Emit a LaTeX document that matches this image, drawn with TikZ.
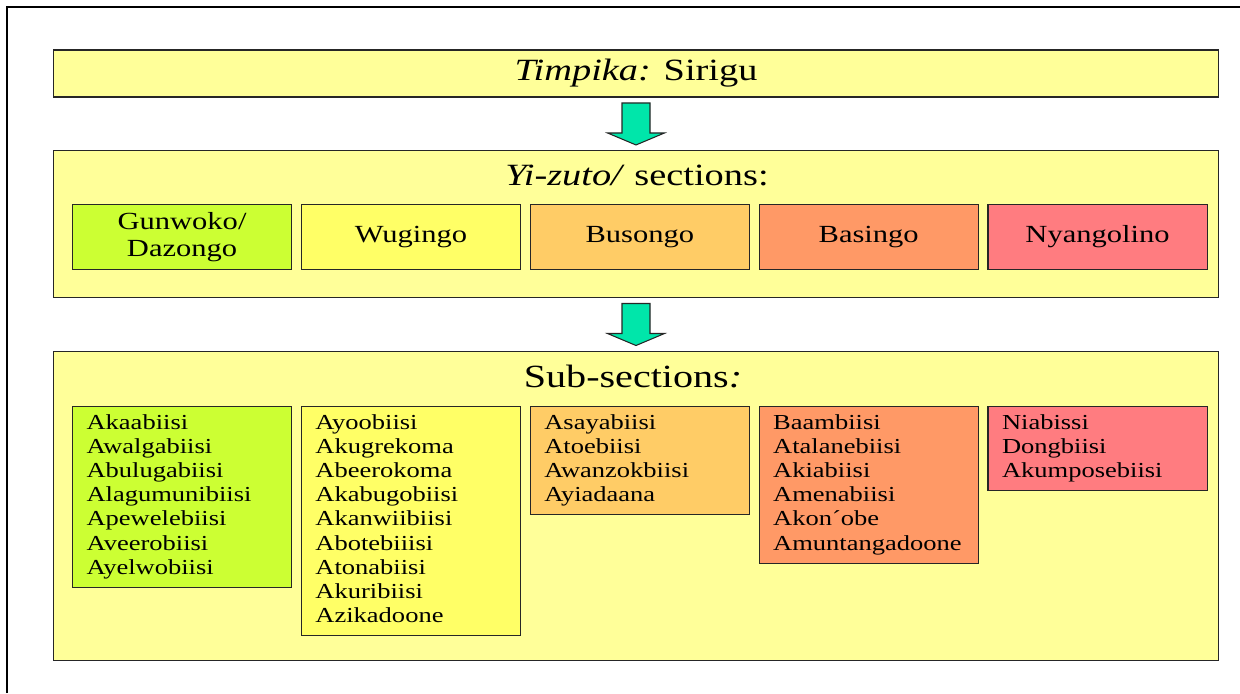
\documentclass[tikz,border=0pt]{standalone}
\usepackage{fontspec}
\setmainfont{Liberation Serif}[FakeStretch=1.24]
\usepackage{tikz}
\usetikzlibrary{positioning}
\usetikzlibrary{calc}
\definecolor{panelfill}{HTML}{FFFF99}
\definecolor{gunwoko}{HTML}{CCFF33}
\definecolor{wugingo}{HTML}{FFFF66}
\definecolor{busongo}{HTML}{FFCC66}
\definecolor{basingo}{HTML}{FF9966}
\definecolor{nyangolino}{HTML}{FF7C80}
\definecolor{arrowgreen}{RGB}{0,230,170}

\begin{document}
\begin{tikzpicture}[
            x = 0.025cm, y = -0.025cm, % one unit = one pixel
            node distance = 6.2pt, % gap between boxes
            line width = 0.75pt
        ]

        \tikzstyle{panel}=[
            draw = black!85,
            fill = panelfill,
            rectangle,
            inner sep = 0pt,
            minimum width = 828pt
        ]
        \tikzstyle{section}=[
            draw = black!85,
            rectangle,
            inner sep = 0pt,
            minimum width = 155.8pt,
            minimum height = 46.2pt,
            align = center,
            font = \fontsize{17.5}{19.7}\selectfont
        ]
        \tikzstyle{members}=[
            draw = black!85,
            rectangle,
            text width = 135.8pt,
            inner xsep = 10pt,
            inner ysep = 4.1pt,
            align = left,
            font = \fontsize{15.2}{17.2}\selectfont,
            execute at begin node = \strut,
            execute at end node = \strut
        ]
        \tikzstyle{bigarrow}=[draw = black!85, fill = arrowgreen]

        \useasboundingbox (0,0) rectangle (1240,693);
        \draw[line width = 1.4pt] (7,693) -- (7,7) -- (1240,7);

	% panels
        \node[panel, minimum height = 33.4pt, font = \fontsize{22}{24}\selectfont] (top) at (636,73.5) {\textit{Timpika:} Sirigu};
        \node[panel, minimum height = 103.9pt] (sections) at (636,224) {};
        \node[panel, minimum height = 219.1pt] (subsections) at (636,506) {};

        \node[anchor = base, font = \fontsize{22}{24}\selectfont] (sectitle) at (637,185) {\textit{Yi-zuto/} sections:};
        \node[anchor = base, font = \fontsize{23}{25}\selectfont] (subtitle) at (633,387) {Sub-sections\textit{:}};

	% arrows
        \coordinate (a1) at ($(top.south)!0.5!(sections.north)$);
        \coordinate (a2) at ($(sections.south)!0.5!(subsections.north)$);
        \draw[bigarrow] ($(a1)+(-14,-21)$) -- ($(a1)+(14,-21)$) -- ($(a1)+(14,9)$) -- ($(a1)+(28.5,9)$)
            -- ($(a1)+(0,21)$) -- ($(a1)+(-28.5,9)$) -- ($(a1)+(-14,9)$) -- cycle;
        \draw[bigarrow] ($(a2)+(-14,-21)$) -- ($(a2)+(14,-21)$) -- ($(a2)+(14,9)$) -- ($(a2)+(28.5,9)$)
            -- ($(a2)+(0,21)$) -- ($(a2)+(-28.5,9)$) -- ($(a2)+(-14,9)$) -- cycle;

	% sections
        \node[section, fill = gunwoko, anchor = north west] (gun) at (72,204) {Gunwoko/\\Dazongo};
        \node[section, fill = wugingo, right = of gun] (wug) {Wugingo};
        \node[section, fill = busongo, right = of wug] (bus) {Busongo};
        \node[section, fill = basingo, right = of bus] (bas) {Basingo};
        \node[section, fill = nyangolino, right = of bas] (nya) {Nyangolino};

	% sub-sections
        \node[members, fill = gunwoko, below = 96.7pt of gun] (gunsub) {Akaabiisi\\Awalgabiisi\\Abulugabiisi\\Alagumunibiisi\\Apewelebiisi\\Aveerobiisi\\Ayelwobiisi};
        \node[members, fill = wugingo, below = 96.7pt of wug] (wugsub) {Ayoobiisi\\Akugrekoma\\Abeerokoma\\Akabugobiisi\\Akanwiibiisi\\Abotebiiisi\\Atonabiisi\\Akuribiisi\\Azikadoone};
        \node[members, fill = busongo, below = 96.7pt of bus] (bussub) {Asayabiisi\\Atoebiisi\\Awanzokbiisi\\Ayiadaana};
        \node[members, fill = basingo, below = 96.7pt of bas] (bassub) {Baambiisi\\Atalanebiisi\\Akiabiisi\\Amenabiisi\\Akon´obe\\Amuntangadoone};
        \node[members, fill = nyangolino, below = 96.7pt of nya] (nyasub) {Niabissi\\Dongbiisi\\Akumposebiisi};

\end{tikzpicture}
\end{document}
